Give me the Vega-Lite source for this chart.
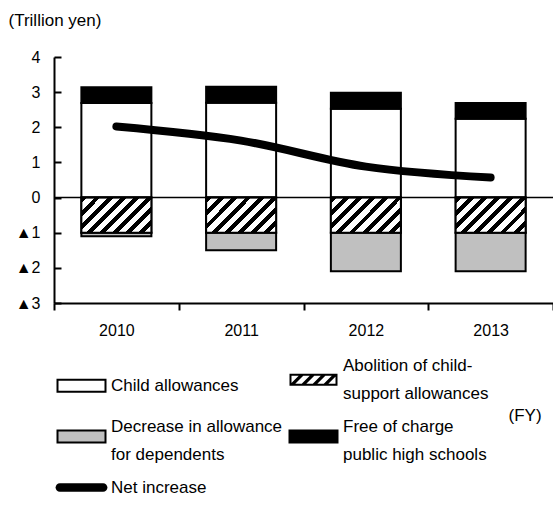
{
  "$schema": "https://vega.github.io/schema/vega-lite/v6.json",
  "width": 499,
  "height": 246,
  "autosize": "none",
  "padding": {"left": 54, "top": 57, "right": 0, "bottom": 202},
  "config": {
    "font": "Liberation Sans", "view": {"stroke": null},
    "axis": {"labelOverlap": false}
  },
  "datasets": {
    "bars": [
      {"year": "2010", "series": "Child allowances", "value": 2.69},
      {"year": "2010", "series": "Free of charge public high schools", "value": 0.45},
      {"year": "2010", "series": "Abolition of child-support allowances", "value": -1.0},
      {"year": "2010", "series": "Decrease in allowance for dependents", "value": -0.1},
      {"year": "2011", "series": "Child allowances", "value": 2.7},
      {"year": "2011", "series": "Free of charge public high schools", "value": 0.45},
      {"year": "2011", "series": "Abolition of child-support allowances", "value": -1.0},
      {"year": "2011", "series": "Decrease in allowance for dependents", "value": -0.5},
      {"year": "2012", "series": "Child allowances", "value": 2.53},
      {"year": "2012", "series": "Free of charge public high schools", "value": 0.45},
      {"year": "2012", "series": "Abolition of child-support allowances", "value": -1.0},
      {"year": "2012", "series": "Decrease in allowance for dependents", "value": -1.1},
      {"year": "2013", "series": "Child allowances", "value": 2.24},
      {"year": "2013", "series": "Free of charge public high schools", "value": 0.45},
      {"year": "2013", "series": "Abolition of child-support allowances", "value": -1.0},
      {"year": "2013", "series": "Decrease in allowance for dependents", "value": -1.1}
    ],
    "net": [
      {"year": "2010", "value": 2.02},
      {"year": "2011", "value": 1.62},
      {"year": "2012", "value": 0.88},
      {"year": "2013", "value": 0.57}
    ]
  },
  "layer": [
    {
      "data": {"name": "bars"},
      "mark": {"type": "bar", "size": 70, "stroke": "black", "strokeWidth": 2},
      "encoding": {
        "x": {
          "field": "year", "type": "ordinal",
          "scale": {"paddingInner": 0, "paddingOuter": 0},
          "axis": {
            "title": "(FY)", "titleX": 454, "titleY": 112, "titleAlign": "left", "titleBaseline": "middle",
            "titleFontSize": 17, "titleFontWeight": "normal", "titleColor": "black",
            "labelAngle": 0, "labelFontSize": 16, "labelPadding": 12, "labelColor": "black",
            "tickSize": 7, "tickWidth": 2, "tickBand": "extent", "tickColor": "black",
            "domainWidth": 2, "domainColor": "black"
          }
        },
        "y": {
          "field": "value", "type": "quantitative", "stack": "zero",
          "scale": {"domain": [-3, 4], "nice": false},
          "axis": {
            "title": "(Trillion yen)", "titleAngle": 0, "titleAlign": "left", "titleBaseline": "middle",
            "titleX": -46, "titleY": -37, "titleFontSize": 17, "titleFontWeight": "normal", "titleColor": "black",
            "values": [-3, -2, -1, 0, 1, 2, 3, 4], "tickCount": 10, "format": "d",
            "labelExpr": "datum.value < 0 ? '▲' + abs(datum.value) : datum.label",
            "labelFontSize": 16, "labelColor": "black", "labelPadding": 21,
            "labelOverlap": false, "labelFlush": false, "labelBound": false,
            "tickSize": -7, "tickWidth": 2, "tickColor": "black",
            "domainWidth": 2, "domainColor": "black", "grid": false
          }
        },
        "order": {"field": "series", "sort": "ascending"},
        "fill": {
          "field": "series", "type": "nominal",
          "scale": {
            "domain": ["Child allowances", "Abolition of child-support allowances", "Decrease in allowance for dependents", "Free of charge public high schools", "Net increase"],
            "range": ["#ffffff", "#000000", "#c0c0c0", "#000000", "#000000"]
          },
          "legend": {
            "orient": "none", "legendX": 19, "legendY": 314, "columns": 2, "direction": "horizontal", "title": null,
            "symbolType": "M-1,-0.25H1V0.25H-1Z", "symbolSize": 2304,
            "symbolStrokeColor": "black", "symbolStrokeWidth": 2, "symbolOpacity": 1,
            "labelFontSize": 17, "labelColor": "black", "labelOffset": 21, "labelLimit": 300,
            "rowPadding": 15, "columnPadding": 2,
            "labelExpr": "datum.label == 'Abolition of child-support allowances' ? ['Abolition of child-', 'support allowances'] : datum.label == 'Decrease in allowance for dependents' ? ['Decrease in allowance', 'for dependents'] : datum.label == 'Free of charge public high schools' ? ['Free of charge', 'public high schools'] : datum.label",
            "encode": {
              "labels": {
                "update": {
                  "lineHeight": {"value": 28},
                  "dy": {"signal": "datum.value == 'Net increase' || datum.value == 'Child allowances' ? 0 : datum.value == 'Abolition of child-support allowances' ? -14 : -10"}
                }
              },
              "symbols": {
                "update": {
                  "shape": {"signal": "datum.value == 'Net increase' ? 'M-0.9,-0.18H0.9A0.18,0.18 0 0 1 0.9,0.18H-0.9A0.18,0.18 0 0 1 -0.9,-0.18Z' : datum.value == 'Abolition of child-support allowances' ? 'M-1,-0.25H1V0.25H-1ZM-0.917,-0.167V0.167H0.917V-0.167ZM-0.95,0.167L-0.617,-0.167H-0.427L-0.76,0.167ZM-0.49,0.167L-0.157,-0.167H0.033L-0.3,0.167ZM-0.03,0.167L0.303,-0.167H0.493L0.16,0.167ZM0.43,0.167L0.763,-0.167H0.953L0.62,0.167Z' : 'M-1,-0.25H1V0.25H-1Z'"},
                  "stroke": {"value": "black"},
                  "strokeWidth": {"signal": "datum.value == 'Net increase' || datum.value == 'Abolition of child-support allowances' ? 0 : 2"},
                  "fill": {"signal": "datum.value == 'Decrease in allowance for dependents' ? '#c0c0c0' : datum.value == 'Child allowances' ? '#ffffff' : '#000000'"}
                }
              }
            }
          }
        }
      }
    },
    {
      "data": {"name": "bars"},
      "transform": [{"filter": "datum.series == 'Abolition of child-support allowances'"}],
      "mark": {
        "type": "bar", "size": 70, "stroke": "black", "strokeWidth": 2,
        "fill": {"gradient": "linear", "x1": 0, "y1": 0, "x2": 1.5, "y2": 0.75, "stops": [
          {"offset": 0, "color": "black"}, {"offset": 0.045, "color": "black"}, {"offset": 0.045, "color": "white"}, {"offset": 0.1, "color": "white"},
          {"offset": 0.1, "color": "black"}, {"offset": 0.145, "color": "black"}, {"offset": 0.145, "color": "white"}, {"offset": 0.2, "color": "white"},
          {"offset": 0.2, "color": "black"}, {"offset": 0.245, "color": "black"}, {"offset": 0.245, "color": "white"}, {"offset": 0.3, "color": "white"},
          {"offset": 0.3, "color": "black"}, {"offset": 0.345, "color": "black"}, {"offset": 0.345, "color": "white"}, {"offset": 0.4, "color": "white"},
          {"offset": 0.4, "color": "black"}, {"offset": 0.445, "color": "black"}, {"offset": 0.445, "color": "white"}, {"offset": 0.5, "color": "white"},
          {"offset": 0.5, "color": "black"}, {"offset": 0.545, "color": "black"}, {"offset": 0.545, "color": "white"}, {"offset": 0.6, "color": "white"},
          {"offset": 0.6, "color": "black"}, {"offset": 0.645, "color": "black"}, {"offset": 0.645, "color": "white"}, {"offset": 0.7, "color": "white"},
          {"offset": 0.7, "color": "black"}, {"offset": 0.745, "color": "black"}, {"offset": 0.745, "color": "white"}, {"offset": 0.8, "color": "white"},
          {"offset": 0.8, "color": "black"}, {"offset": 0.845, "color": "black"}, {"offset": 0.845, "color": "white"}, {"offset": 0.9, "color": "white"},
          {"offset": 0.9, "color": "black"}, {"offset": 0.945, "color": "black"}, {"offset": 0.945, "color": "white"}, {"offset": 1, "color": "white"}
        ]}
      },
      "encoding": {
        "x": {"field": "year", "type": "ordinal"},
        "y": {"field": "value", "type": "quantitative", "stack": "zero"}
      }
    },
    {
      "data": {"values": [{"v": 0}]},
      "mark": {"type": "rule", "color": "black", "strokeWidth": 1.5},
      "encoding": {"y": {"field": "v", "type": "quantitative"}}
    },
    {
      "data": {"name": "net"},
      "mark": {"type": "line", "color": "black", "strokeWidth": 8, "strokeCap": "round", "interpolate": "monotone"},
      "encoding": {
        "x": {"field": "year", "type": "ordinal"},
        "y": {"field": "value", "type": "quantitative"}
      }
    }
  ]
}
